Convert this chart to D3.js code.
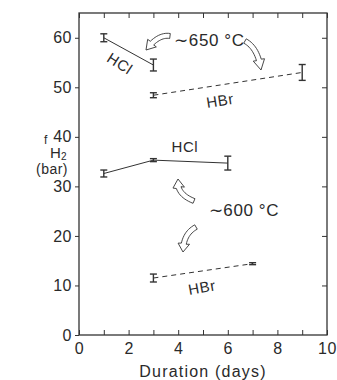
<!DOCTYPE html>
<meta charset="utf-8">
<style>
body { margin: 0; background: #fff; }
text { font-family: "Liberation Sans", Arial, sans-serif; fill: #2a2a2a; }
.frame { fill: none; stroke: #333; stroke-width: 1.3px; }
.tick line { stroke: #333; }
.series { fill: none; stroke: #333; stroke-width: 1px; }
.err { stroke: #333; stroke-width: 1.4px; }
.arrow { fill: #fff; stroke: #333; stroke-width: 0.9px; }
</style>
<body>
<script src="https://cdn.jsdelivr.net/npm/d3@7"></script>
<script>
    const width = 337;
    const height = 380;

    // fH2 (bar) vs duration (days)
    const hcl650Days = [1, 3];
    const hcl650Values = [60, 54.5];
    const hcl650Errors = [0.8, 1.2];

    const hbr650Days = [3, 9];
    const hbr650Values = [48.4, 53];
    const hbr650Errors = [0.5, 1.6];

    const hcl600Days = [1, 3, 6];
    const hcl600Values = [32.6, 35.3, 34.7];
    const hcl600Errors = [0.7, 0.3, 1.4];

    const hbr600Days = [3, 7];
    const hbr600Values = [11.5, 14.4];
    const hbr600Errors = [0.8, 0.2];

    const xTicks = [0, 2, 4, 6, 8, 10];
    const yTicks = [0, 10, 20, 30, 40, 50, 60];

    const x = d3.scaleLinear().domain([0, 10]).range([79, 327]);
    const y = d3.scaleLinear().domain([0, 65]).range([335, 13]);

    const svg = d3.select("body").append("svg")
        .attr("width", width)
        .attr("height", height);

    // frame
    svg.append("rect")
        .attr("class", "frame")
        .attr("x", x(0))
        .attr("y", y(65))
        .attr("width", x(10) - x(0))
        .attr("height", y(0) - y(65));

    // bottom axis: labels every 2, inward ticks every 1
    const bottom = svg.append("g")
        .attr("transform", "translate(0," + y(0) + ")")
        .call(d3.axisBottom(x).tickValues(xTicks).tickSize(0).tickPadding(8));
    bottom.select(".domain").remove();
    bottom.selectAll("text").style("font-size", "16px").style("letter-spacing", "0.5px");
    svg.append("g")
        .attr("transform", "translate(0," + y(0) + ")")
        .call(d3.axisTop(x).ticks(10).tickSize(5).tickFormat(""))
        .select(".domain").remove();
    svg.append("g")
        .attr("transform", "translate(0," + y(65) + ")")
        .call(d3.axisBottom(x).ticks(10).tickSize(5).tickFormat(""))
        .select(".domain").remove();

    // left axis: outward ticks
    const left = svg.append("g")
        .attr("transform", "translate(" + x(0) + ",0)")
        .call(d3.axisLeft(y).tickValues(yTicks).tickSize(4).tickPadding(3));
    left.select(".domain").remove();
    left.selectAll("text").style("font-size", "16px").style("letter-spacing", "0.5px");
    // right axis: inward ticks
    svg.append("g")
        .attr("transform", "translate(" + x(10) + ",0)")
        .call(d3.axisLeft(y).tickValues(yTicks.slice(1)).tickSize(5).tickFormat(""))
        .select(".domain").remove();

    // axis titles
    svg.append("text")
        .attr("x", x(5))
        .attr("y", 377)
        .attr("text-anchor", "middle")
        .style("font-size", "16px")
        .style("letter-spacing", "1.2px")
        .text("Duration (days)");

    svg.append("text").attr("x", 44).attr("y", 144)
        .style("font-size", "12px").text("f");
    svg.append("text").attr("x", 50).attr("y", 158)
        .style("font-size", "15px").text("H");
    svg.append("text").attr("x", 61).attr("y", 160)
        .style("font-size", "10px").text("2");
    svg.append("text")
        .attr("x", 52)
        .attr("y", 174)
        .attr("text-anchor", "middle")
        .style("font-size", "14px")
        .style("letter-spacing", "0.5px")
        .text("(bar)");

    function drawSeries(days, values, errors, dashed) {
        const pts = days.map((d, i) => ({ d: d, v: values[i], e: errors[i] }));
        const line = d3.line().x(p => x(p.d)).y(p => y(p.v));
        svg.append("path")
            .datum(pts)
            .attr("class", "series")
            .attr("stroke-dasharray", dashed ? "5,4" : null)
            .attr("d", line);
        const g = svg.append("g").selectAll("g").data(pts).enter().append("g");
        g.append("line").attr("class", "err")
            .attr("x1", p => x(p.d)).attr("x2", p => x(p.d))
            .attr("y1", p => y(p.v + p.e)).attr("y2", p => y(p.v - p.e));
        g.append("line").attr("class", "err")
            .attr("x1", p => x(p.d) - 3.5).attr("x2", p => x(p.d) + 3.5)
            .attr("y1", p => y(p.v + p.e)).attr("y2", p => y(p.v + p.e));
        g.append("line").attr("class", "err")
            .attr("x1", p => x(p.d) - 3.5).attr("x2", p => x(p.d) + 3.5)
            .attr("y1", p => y(p.v - p.e)).attr("y2", p => y(p.v - p.e));
    }

    drawSeries(hcl650Days, hcl650Values, hcl650Errors, false);
    drawSeries(hbr650Days, hbr650Values, hbr650Errors, true);
    drawSeries(hcl600Days, hcl600Values, hcl600Errors, false);
    drawSeries(hbr600Days, hbr600Values, hbr600Errors, true);

    function label(txt, cx, cy, angle, size) {
        svg.append("text")
            .attr("transform", "translate(" + x(cx) + "," + y(cy) + ") rotate(" + angle + ")")
            .attr("text-anchor", "middle")
            .attr("dy", "0.35em")
            .style("font-size", size + "px")
            .style("letter-spacing", "0.6px")
            .text(txt);
    }

    label("HCl", 1.65, 54.8, 33, 15);
    label("HBr", 5.69, 47.3, -9, 15);
    label("\u223C650 \u00B0C", 5.26, 59.6, 0, 17);
    label("HCl", 4.27, 37.9, 0, 15);
    label("\u223C600 \u00B0C", 6.65, 25.2, 0, 17);
    label("HBr", 4.96, 9.6, -10, 15);

    // hollow curved arrows: quadratic curve from tail through control to tip
    function arrow(p0, c, p1, w) {
        const n = 16, pts = [];
        for (let i = 0; i <= n; i++) {
            const t = i / n;
            pts.push([
                (1 - t) * (1 - t) * p0[0] + 2 * (1 - t) * t * c[0] + t * t * p1[0],
                (1 - t) * (1 - t) * p0[1] + 2 * (1 - t) * t * c[1] + t * t * p1[1]
            ]);
        }
        // shaft stops short of the tip to leave room for the head
        const headLen = 8;
        let k = n;
        while (k > 1 && Math.hypot(p1[0] - pts[k][0], p1[1] - pts[k][1]) < headLen) k--;
        const shaft = pts.slice(0, k + 1);
        const sideA = [], sideB = [];
        shaft.forEach((p, i) => {
            const q = shaft[Math.min(i + 1, shaft.length - 1)];
            const r = shaft[Math.max(i - 1, 0)];
            let dx = q[0] - r[0], dy = q[1] - r[1];
            const len = Math.hypot(dx, dy);
            dx /= len; dy /= len;
            sideA.push([p[0] - dy * w / 2, p[1] + dx * w / 2]);
            sideB.push([p[0] + dy * w / 2, p[1] - dx * w / 2]);
        });
        const base = shaft[shaft.length - 1];
        let dx = p1[0] - base[0], dy = p1[1] - base[1];
        const len = Math.hypot(dx, dy);
        dx /= len; dy /= len;
        const hw = w * 1.15;
        const outline = sideA
            .concat([[base[0] - dy * hw, base[1] + dx * hw], p1, [base[0] + dy * hw, base[1] - dx * hw]])
            .concat(sideB.reverse());
        svg.append("path")
            .attr("class", "arrow")
            .attr("d", d3.line()(outline) + "Z");
    }

    arrow([170, 36], [158, 34], [146, 50], 5);
    arrow([245, 41], [258, 48], [261, 70], 5);
    arrow([194, 201], [176, 194], [178, 179], 5);
    arrow([196, 227], [183, 234], [183, 252], 5);
</script>
</body>
